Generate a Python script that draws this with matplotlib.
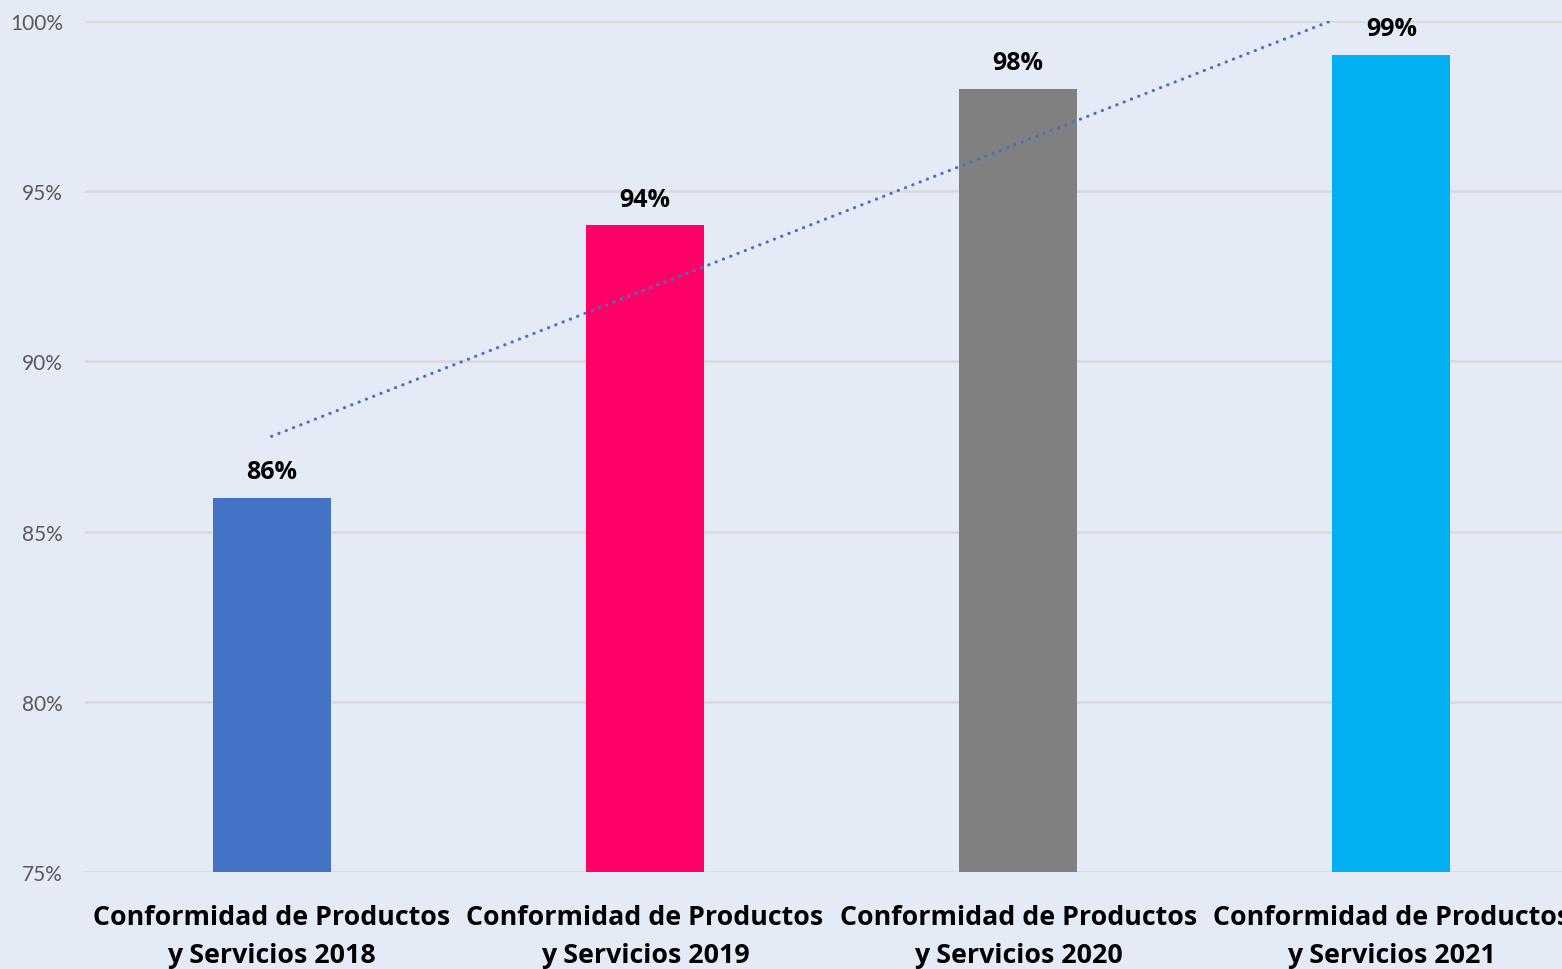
import matplotlib
matplotlib.use("Agg")
import matplotlib.pyplot as plt
import numpy as np

categories = ["Conformidad de Productos\ny Servicios 2018",
              "Conformidad de Productos\ny Servicios 2019",
              "Conformidad de Productos\ny Servicios 2020",
              "Conformidad de Productos\ny Servicios 2021"]
values = [86, 94, 98, 99]
bar_colors = ["#4472C4", "#FF0066", "#808080", "#00B0F0"]
yticks = [75, 80, 85, 90, 95, 100]

bg = "#E4EBF7"
fig = plt.figure(figsize=(15.62, 9.70), dpi=100)
fig.patch.set_facecolor(bg)
# axes runs a bit past the right edge, as in the original
ax = fig.add_axes([85 / 1562, (970 - 873) / 970, 1493 / 1562, 851 / 970])
ax.set_facecolor(bg)

x = np.arange(len(values))
ax.bar(x, values, width=0.316, color=bar_colors, zorder=3)

for xi, v in zip(x, values):
    ax.text(xi, v + 0.4, "%d%%" % v, ha="center", va="bottom",
            fontsize=18, fontweight="bold", family="Open Sans", zorder=4)

# linear trend line
k, b = np.polyfit(x, values, 1)
ax.plot(x, k * x + b, linestyle=(0, (0.05, 2.4)), color="#4472C4",
        linewidth=2.3, dash_capstyle="round", zorder=5)

ax.set_xlim(-0.5, 3.5)
ax.set_ylim(75, 100)
ax.set_yticks(yticks)
ax.set_yticklabels(["%d%%" % t for t in yticks], family="Lato",
                   fontsize=15, color="#595959")
ax.set_xticks(x)
ax.set_xticklabels(categories, family="Open Sans", fontweight="bold",
                   fontsize=19.3, linespacing=1.62)
ax.tick_params(axis="both", length=0)
ax.tick_params(axis="y", pad=16)
ax.tick_params(axis="x", pad=23)
ax.grid(axis="y", color="#D9D9D9", linewidth=1.8, zorder=0)
for s in ax.spines.values():
    s.set_visible(False)

fig.savefig("out.png", dpi=100, facecolor=bg)
